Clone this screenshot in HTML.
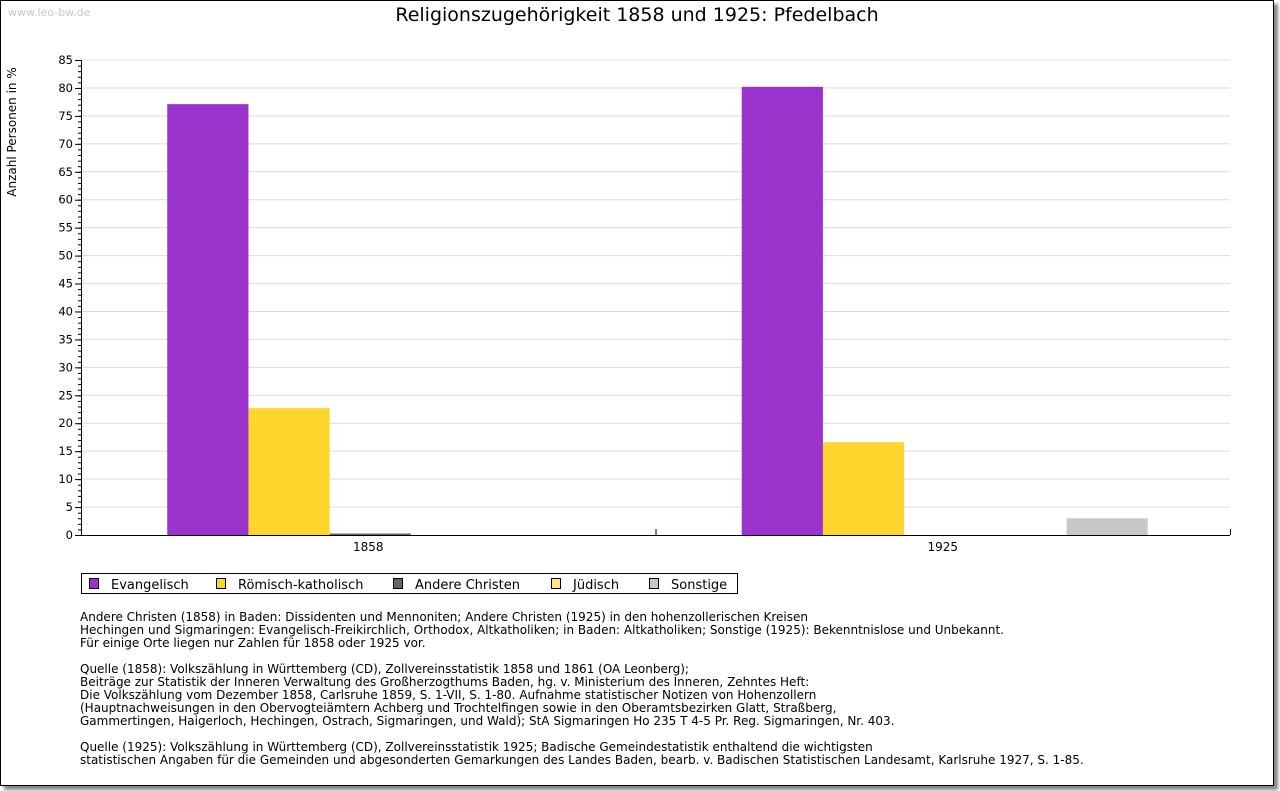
<!DOCTYPE html>
<html><head><meta charset="utf-8"><style>
body{margin:0;width:1280px;height:791px;background:#fff;font-family:"DejaVu Sans","Liberation Sans",sans-serif;position:relative;overflow:hidden}
#frame{position:absolute;left:0;top:0;width:1272px;height:784px;border:1px solid #000;box-shadow:4px 4px 3px #888;background:#fff}
#notes{position:absolute;left:80px;top:611px;font-size:12px;line-height:13.2px;color:#000;white-space:pre}
#notes p{margin:0 0 12px 0}
</style></head><body>
<div id="frame"></div>
<svg id="chart" width="1280" height="791" style="position:absolute;left:0;top:0"></svg>
<div id="notes"><p>Andere Christen (1858) in Baden: Dissidenten und Mennoniten; Andere Christen (1925) in den hohenzollerischen Kreisen
Hechingen und Sigmaringen: Evangelisch-Freikirchlich, Orthodox, Altkatholiken; in Baden: Altkatholiken; Sonstige (1925): Bekenntnislose und Unbekannt.
Für einige Orte liegen nur Zahlen für 1858 oder 1925 vor.</p><p>Quelle (1858): Volkszählung in Württemberg (CD), Zollvereinsstatistik 1858 und 1861 (OA Leonberg);
Beiträge zur Statistik der Inneren Verwaltung des Großherzogthums Baden, hg. v. Ministerium des Inneren, Zehntes Heft:
Die Volkszählung vom Dezember 1858, Carlsruhe 1859, S. 1-VII, S. 1-80. Aufnahme statistischer Notizen von Hohenzollern
(Hauptnachweisungen in den Obervogteiämtern Achberg und Trochtelfingen sowie in den Oberamtsbezirken Glatt, Straßberg,
Gammertingen, Haigerloch, Hechingen, Ostrach, Sigmaringen, und Wald); StA Sigmaringen Ho 235 T 4-5 Pr. Reg. Sigmaringen, Nr. 403.</p><p>Quelle (1925): Volkszählung in Württemberg (CD), Zollvereinsstatistik 1925; Badische Gemeindestatistik enthaltend die wichtigsten
statistischen Angaben für die Gemeinden und abgesonderten Gemarkungen des Landes Baden, bearb. v. Badischen Statistischen Landesamt, Karlsruhe 1927, S. 1-85.</p></div>
<script>
const categories=["1858","1925"];
const seriesNames=["Evangelisch","Römisch-katholisch","Andere Christen","Jüdisch","Sonstige"];
const seriesColors=["#9933cc","#fdd52c","#666666","#ffe88a","#c8c8c8"];
const evangelisch=[77.1,80.2];
const katholisch=[22.7,16.6];
const andereChristen=[0.2,0];
const juedisch=[0,0];
const sonstige=[0,3.0];
const yTicks=[0,5,10,15,20,25,30,35,40,45,50,55,60,65,70,75,80,85];
const series=[evangelisch,katholisch,andereChristen,juedisch,sonstige];
const NS="http://www.w3.org/2000/svg";
const svg=document.getElementById('chart');
const X0=81,X1=1230,Y0=535,Y1=60,YMAX=85;
const y=v=>Y0-(v/YMAX)*(Y0-Y1);
const groupW=(X1-X0)/categories.length;
const barW=81.2;
const xBar=(c,s)=>X0+c*groupW+(groupW-barW*series.length)/2+2+s*barW;
function el(t,a,txt){const e=document.createElementNS(NS,t);for(const k in a)e.setAttribute(k,a[k]);if(txt!==undefined)e.textContent=txt;svg.appendChild(e);return e;}
let e;
e=el('text',{x:637,y:21,'text-anchor':'middle','font-size':19,fill:'#000'},'Religionszugehörigkeit 1858 und 1925: Pfedelbach');


e=el('text',{x:8,y:16,'font-size':11,fill:'#c8c8c8'},'www.leo-bw.de');


e=el('text',{x:16,y:132,'font-size':12,'text-anchor':'middle',transform:'rotate(-90 16 132)'},'Anzahl Personen in %');


yTicks.forEach(t=>{
 if(t>0){e=el('line',{x1:X0,x2:X1,y1:y(t),y2:y(t),stroke:'#dcdcdc','stroke-width':1});
 
 }
 e=el('text',{x:73,y:y(t)+4,'font-size':11.5,'text-anchor':'end'},t);
 
 
 el('line',{x1:X0-6,x2:X0,y1:y(t)+.5,y2:y(t)+.5,stroke:'#000'});
});
for(let v=0;v<=YMAX;v++){el('line',{x1:X0-3,x2:X0,y1:y(v)+.5,y2:y(v)+.5,stroke:'#000'});}
series.forEach((arr,s)=>{arr.forEach((v,c)=>{
 if(v<=0)return;
 const h=Math.max(y(0)-y(v),1.5);
 e=el('rect',{x:xBar(c,s),y:y(0)-h,width:barW,height:h,fill:seriesColors[s]});
 
 
});});
el('line',{x1:X0+.5,x2:X0+.5,y1:Y1,y2:Y0,stroke:'#000'});
el('line',{x1:X0,x2:X1,y1:Y0+.5,y2:Y0+.5,stroke:'#000'});
for(let c=0;c<=categories.length;c++){const xx=X0+c*groupW;el('line',{x1:xx+.5,x2:xx+.5,y1:Y0-6,y2:Y0,stroke:'#000'});}
categories.forEach((c,i)=>{e=el('text',{x:X0+(i+.5)*groupW,y:551,'font-size':12,'text-anchor':'middle'},c);
 
 });
e=el('rect',{x:81.5,y:573.5,width:656,height:20,fill:'#fff',stroke:'#000'});


const lx=[89,216,393,551,649];
seriesNames.forEach((n,i)=>{
 el('rect',{x:lx[i]+.5,y:578.5,width:9,height:10,fill:seriesColors[i],stroke:'#000'});
 e=el('text',{x:lx[i]+22,y:589,'font-size':13},n);
 
 
});
</script>
</body></html>
